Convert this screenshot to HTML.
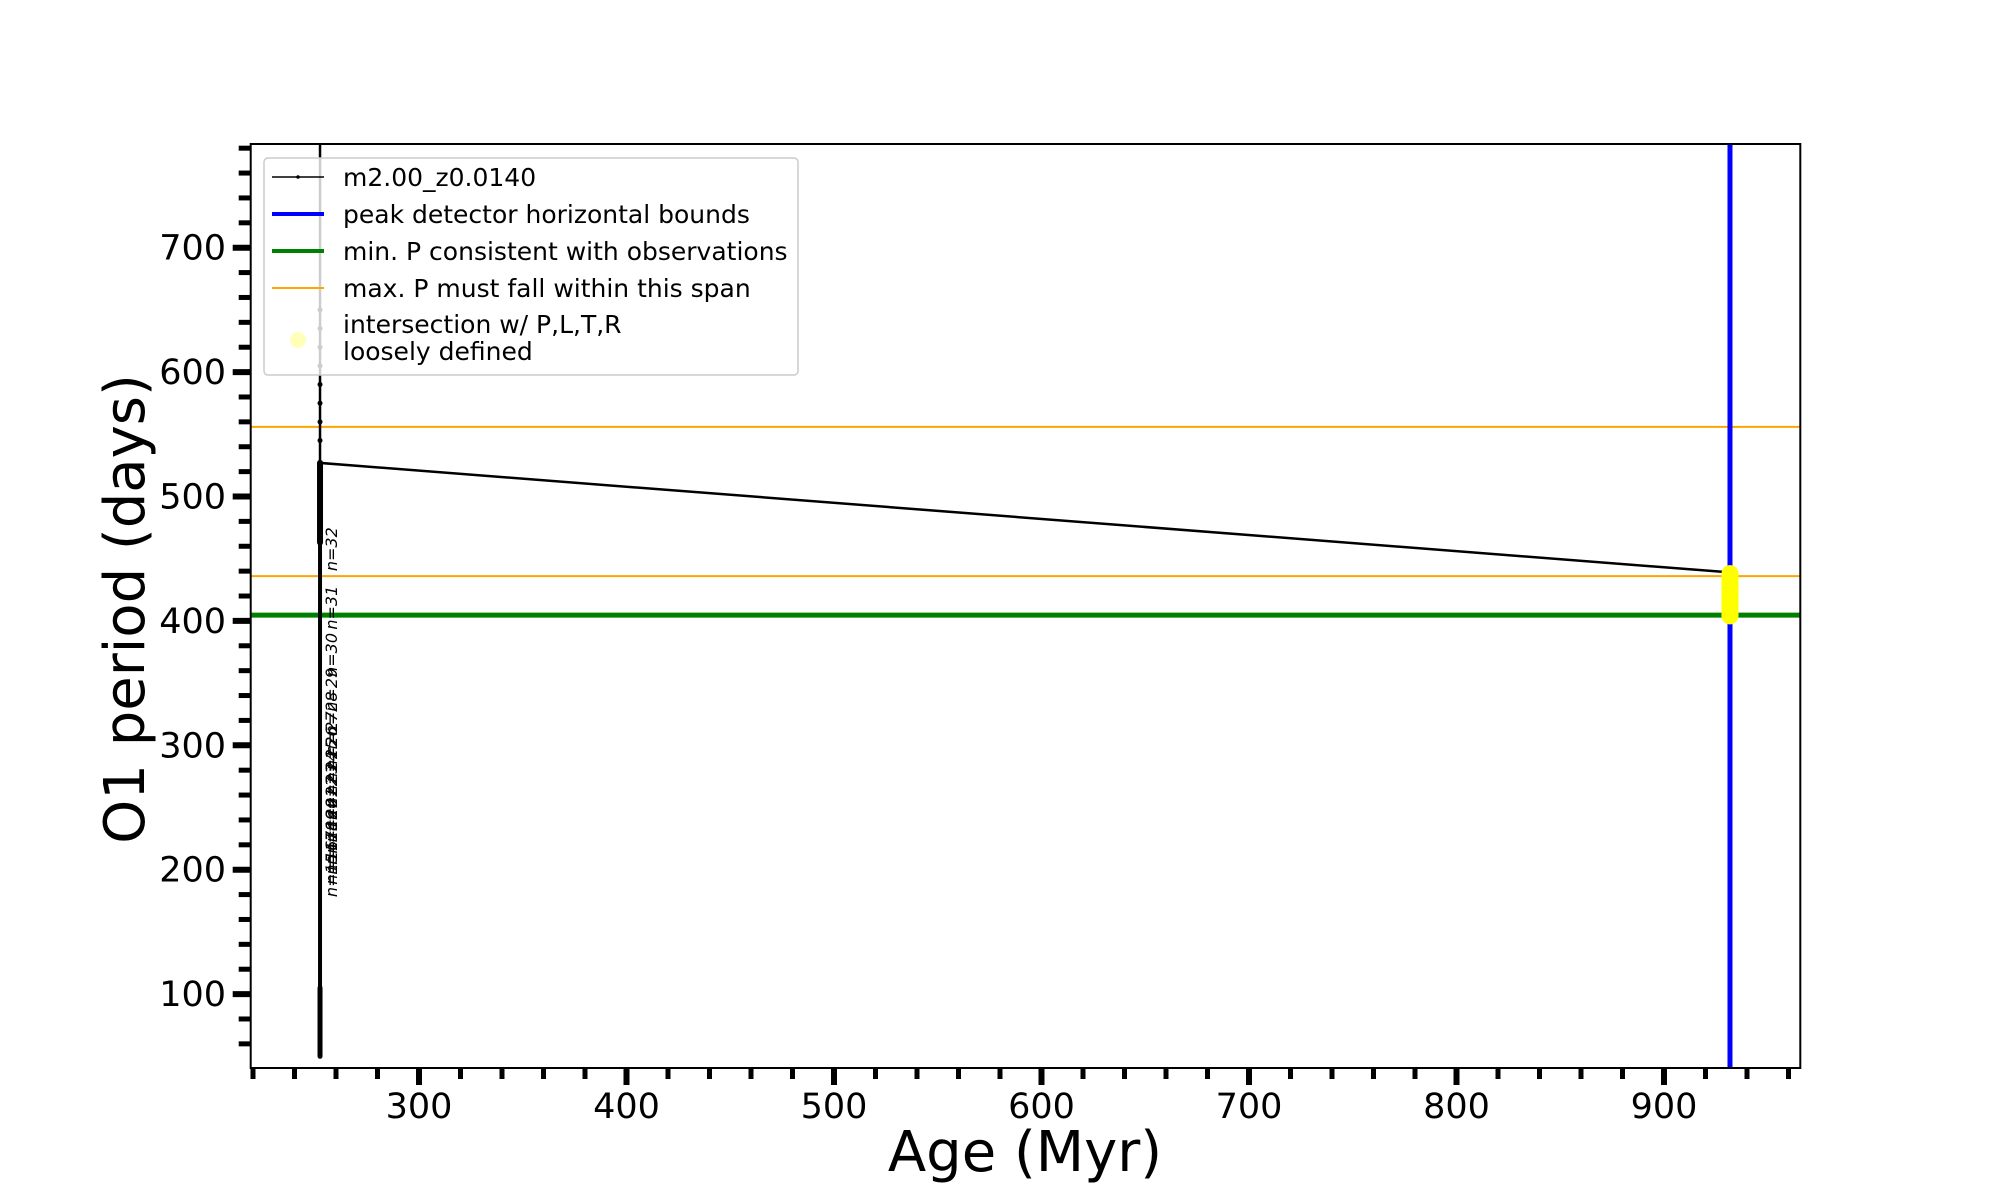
<!DOCTYPE html>
<html><head><meta charset="utf-8"><style>
html,body{margin:0;padding:0;background:#fff;}
svg{display:block;font-family:"DejaVu Sans","Liberation Sans",sans-serif;}
</style></head><body>
<svg id="chart" width="2000" height="1200" viewBox="0 0 2000 1200" xmlns="http://www.w3.org/2000/svg">
<rect x="0" y="0" width="2000" height="1200" fill="#fff"/>
<g id="plot"></g>
</svg>
<script>
const xMajorTicks = [300, 400, 500, 600, 700, 800, 900];
const yMajorTicks = [100, 200, 300, 400, 500, 600, 700];
const trackAges = [252.3, 252.3, 252.3, 252.3, 931.8];
const trackPeriods = [50, 600, 800, 527, 439];
const denseSegAges = [252.3, 252.3, 252.3];
const denseSegLo = [50, 105, 463];
const denseSegHi = [105, 527, 527];
const denseSegW = [5, 4, 6];
const dotPeriods = [545, 560, 575, 590, 605, 620, 635, 650];
const blueAges = [931.8];
const greenPeriods = [404.6];
const orangePeriods = [556, 436];
const yellowAges = [931.8];
const yellowLo = [404];
const yellowHi = [438];
const nLabels = ['n=32', 'n=31', 'n=30', 'n=29', 'n=28', 'n=27', 'n=26', 'n=25', 'n=24', 'n=23', 'n=22', 'n=21', 'n=20', 'n=19', 'n=18', 'n=17', 'n=16', 'n=15'];
const nLabelPeriods = [440, 393, 355, 327, 308, 292, 280, 270, 260, 250, 240, 231, 222, 213, 204, 196, 188, 178];

const L = 250.7, R = 1800.3, T = 144, B = 1068;
function xs(a){ return 419 + (a - 300) * 2.075; }
function ys(p){ return 247.7 - (p - 700) * 1.244; }
const NS = 'http://www.w3.org/2000/svg';
const g = document.getElementById('plot');
function mk(tag, attrs, parent){
  const e = document.createElementNS(NS, tag);
  for (const k in attrs) e.setAttribute(k, attrs[k]);
  (parent || g).appendChild(e);
  return e;
}
const defs = mk('defs', {});
const cp = mk('clipPath', {id: 'clip'}, defs);
mk('rect', {x: L, y: T, width: R - L, height: B - T}, cp);
const data = mk('g', {'clip-path': 'url(#clip)'});



orangePeriods.forEach((p, i) => {
  const e = mk('line', {x1: L, x2: R, y1: ys(p), y2: ys(p), stroke: '#ffa500', 'stroke-width': 2}, data);
  
  
});
greenPeriods.forEach(p => {
  const e = mk('line', {x1: L, x2: R, y1: ys(p), y2: ys(p), stroke: '#008000', 'stroke-width': 5}, data);
  
  
});
blueAges.forEach(a => {
  const e = mk('line', {x1: xs(a), x2: xs(a), y1: T, y2: B, stroke: '#0000ff', 'stroke-width': 5}, data);
  
  
});
const pts = trackAges.map((a, i) => xs(a) + ',' + ys(trackPeriods[i])).join(' ');
const tr = mk('polyline', {points: pts, fill: 'none', stroke: '#000', 'stroke-width': 2.5}, data);


denseSegAges.forEach((a, i) => {
  const e = mk('line', {x1: xs(a), x2: xs(a), y1: ys(denseSegLo[i]), y2: ys(denseSegHi[i]), stroke: '#000', 'stroke-width': denseSegW[i], 'stroke-linecap': 'round'}, data);
  
  
});
dotPeriods.forEach(p => {
  const e = mk('circle', {cx: xs(trackAges[0]), cy: ys(p), r: 2.5, fill: '#000'}, data);
  
  
});
nLabels.forEach((t, i) => {
  const x = xs(trackAges[0]) + 17, y = ys(nLabelPeriods[i]);
  const e = mk('text', {x: x, y: y, 'font-size': 16, 'font-style': 'italic', fill: '#000', transform: 'rotate(-90 ' + x + ' ' + y + ')', 'text-anchor': 'start'}, data);
  e.textContent = t;
  
  
});
yellowAges.forEach((a, i) => {
  const e = mk('line', {x1: xs(a), x2: xs(a), y1: ys(yellowLo[i]), y2: ys(yellowHi[i]), stroke: '#ffff00', 'stroke-width': 17, 'stroke-linecap': 'round'}, data);
  
  
});

const fr = mk('rect', {x: L, y: T, width: R - L, height: B - T, fill: 'none', stroke: '#000', 'stroke-width': 2});



for (let a = 220; a <= 965; a += 20) {
  const major = a % 100 === 0;
  const e = mk('line', {x1: xs(a), x2: xs(a), y1: B, y2: B + (major ? 17 : 11), stroke: '#000', 'stroke-width': major ? 6 : 5});
  
  
}
xMajorTicks.forEach(a => {
  const e = mk('text', {x: xs(a), y: 1118, 'font-size': 35, 'text-anchor': 'middle', fill: '#000'});
  e.textContent = a;
  
  
});
for (let p = 60; p <= 780; p += 20) {
  const major = p % 100 === 0;
  const e = mk('line', {x1: L - (major ? 18 : 12), x2: L, y1: ys(p), y2: ys(p), stroke: '#000', 'stroke-width': major ? 6 : 5});
  
  
}
yMajorTicks.forEach(p => {
  const e = mk('text', {x: 226, y: ys(p) + 12, 'font-size': 35, 'text-anchor': 'end', fill: '#000'});
  e.textContent = p;
  
  
});
const xt = mk('text', {x: 1025, y: 1171, 'font-size': 56, 'text-anchor': 'middle', fill: '#000'});
xt.textContent = 'Age (Myr)';


const yt = mk('text', {x: 144, y: 609, 'font-size': 56, 'text-anchor': 'middle', fill: '#000', transform: 'rotate(-90 144 609)'});
yt.textContent = 'O1 period (days)';



const lg = mk('g', {});


mk('rect', {x: 264, y: 158, width: 534, height: 217, rx: 4, fill: 'rgba(255,255,255,0.8)', stroke: '#ccc', 'stroke-width': 1.5}, lg);
const rows = [
  {y: 177, label: 'm2.00_z0.0140', color: '#000', w: 1.5},
  {y: 214, label: 'peak detector horizontal bounds', color: '#0000ff', w: 4},
  {y: 251, label: 'min. P consistent with observations', color: '#008000', w: 4},
  {y: 288, label: 'max. P must fall within this span', color: '#ffa500', w: 2}
];
rows.forEach(r => {
  const ln = mk('line', {x1: 272, x2: 324, y1: r.y, y2: r.y, stroke: r.color, 'stroke-width': r.w}, lg);
  
  
  const t = mk('text', {x: 343, y: r.y + 9, 'font-size': 25, fill: '#000'}, lg);
  t.textContent = r.label;
  
  
});
mk('circle', {cx: 298, cy: 177, r: 1.8, fill: '#000'}, lg);
const yc = mk('circle', {cx: 298, cy: 340, r: 8, fill: '#ffffa8', opacity: 0.8}, lg);


const t1 = mk('text', {x: 343, y: 333, 'font-size': 25, fill: '#000'}, lg);
t1.textContent = 'intersection w/ P,L,T,R';


const t2 = mk('text', {x: 343, y: 360, 'font-size': 25, fill: '#000'}, lg);
t2.textContent = 'loosely defined';


</script>
</body></html>
